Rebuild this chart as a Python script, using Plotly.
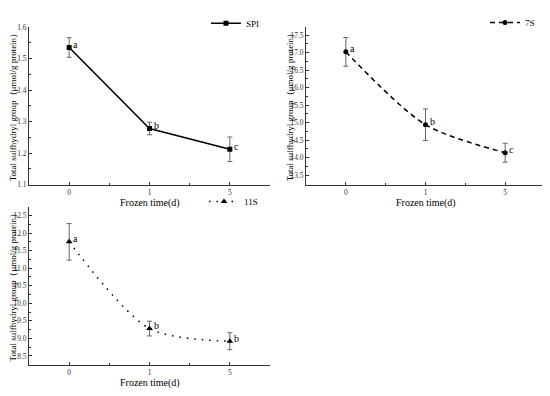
import plotly.graph_objects as go

categories = ["0", "1", "5"]
spi_values = [1.535, 1.278, 1.212]
spi_errors = [0.031, 0.020, 0.039]
spi_letters = ["a", "b", "c"]
s7_values = [17.02, 14.94, 14.14]
s7_errors = [0.41, 0.45, 0.27]
s7_letters = ["a", "b", "c"]
s11_values = [11.75, 9.28, 8.92]
s11_errors = [0.52, 0.21, 0.24]
s11_letters = ["a", "b", "b"]

xpos = list(range(len(categories)))
FONT = "Liberation Serif"
OFF = 8  # page body margin
W, H = 550 - OFF, 396 - OFF

def px_x(p):
    return min(max((p - OFF) / W, 0.0), 1.0)

def px_y(p):
    return min(max(1 - (p - OFF) / H, 0.0), 1.0)

fig = go.Figure()
err_style = dict(type="data", visible=True, color="#666666", thickness=1, width=2.5)

fig.add_trace(go.Scatter(
    x=xpos, y=spi_values, name="SPI", mode="lines+markers",
    line=dict(color="black", width=1.5),
    marker=dict(symbol="square", size=5, color="black"),
    error_y=dict(array=spi_errors, **err_style),
    xaxis="x", yaxis="y", legend="legend", showlegend=True))
fig.add_trace(go.Scatter(
    x=xpos, y=s7_values, name="7S", mode="lines+markers",
    line=dict(color="black", width=1.5, dash="5px,4px", shape="spline", smoothing=0.8),
    marker=dict(symbol="circle", size=5, color="black"),
    error_y=dict(array=s7_errors, **err_style),
    xaxis="x2", yaxis="y2", legend="legend2", showlegend=True))
fig.add_trace(go.Scatter(
    x=xpos, y=s11_values, name="11S", mode="lines+markers",
    line=dict(color="black", width=1.5, dash="1.5px,6px", shape="spline", smoothing=0.8),
    marker=dict(symbol="triangle-up", size=6, color="black"),
    error_y=dict(array=s11_errors, **err_style),
    xaxis="x3", yaxis="y3", legend="legend3", showlegend=True))

panels = [
    ("x", "y", (29, 270), (8, 176), [1.1, 1.6], 0.1, spi_values, spi_letters),
    ("x2", "y2", (306, 545), (8, 176), [13.23, 17.73], 0.5, s7_values, s7_letters),
    ("x3", "y3", (29, 270), (200, 368), [8.25, 12.74], 0.5, s11_values, s11_letters),
]

axis_common = dict(
    showline=True, linecolor="#333333", linewidth=1, ticks="inside", ticklen=3,
    tickcolor="#333333", showgrid=False, zeroline=False,
    tickfont=dict(family=FONT, size=7.5, color="#333333"),
)

annotations = []
for i, (xa, ya, (xl, xr), (yt, yb), yr, dt, vals, letters) in enumerate(panels):
    suffix = "" if i == 0 else str(i + 1)
    fig.update_layout(**{
        "xaxis" + suffix: dict(
            domain=[px_x(xl), px_x(xr)], anchor=ya, range=[-0.5, 2.5],
            tickmode="array", tickvals=xpos, ticktext=categories,
            minor=dict(ticks="inside", ticklen=2, tick0=0.5, dtick=1, tickcolor="#333333"),
            **axis_common),
        "yaxis" + suffix: dict(
            domain=[px_y(yb), px_y(yt)], anchor=xa, range=yr, dtick=dt,
            tickformat=".1f",
            minor=dict(ticks="inside", ticklen=2, dtick=dt / 2, tickcolor="#333333"),
            **axis_common),
    })
    for xv, yv, lt in zip(xpos, vals, letters):
        annotations.append(dict(
            x=xv, y=yv, xref=xa, yref=ya, text=lt, showarrow=False,
            xanchor="left", yanchor="middle", xshift=2, yshift=3,
            font=dict(family=FONT, size=10, color="black")))
    annotations.append(dict(
        x=(px_x(xl) + px_x(xr)) / 2, y=px_y(yb + 19.5), xref="paper", yref="paper",
        text="Frozen time(d)", showarrow=False, xanchor="center", yanchor="middle",
        font=dict(family=FONT, size=10, color="black")))
    annotations.append(dict(
        x=px_x(xl - 16.5), y=(px_y(yb) + px_y(yt)) / 2, xref="paper", yref="paper",
        text="Total sulfhydryl group（μmol/g protein）", showarrow=False, textangle=-90,
        xanchor="center", yanchor="middle",
        font=dict(family=FONT, size=9, color="black")))

legend_common = dict(
    bgcolor="rgba(0,0,0,0)", borderwidth=0, itemwidth=30,
    font=dict(family=FONT, size=9, color="black"),
    xanchor="left", yanchor="middle", tracegroupgap=0)

fig.update_layout(
    width=W, height=H,
    margin=dict(l=0, r=0, t=0, b=0),
    paper_bgcolor="white", plot_bgcolor="white",
    annotations=annotations,
    legend=dict(x=(206 - OFF) / W, y=1 - (4 - OFF) / H, **legend_common),
    legend2=dict(x=(485 - OFF) / W, y=1 - (3 - OFF) / H, **legend_common),
    legend3=dict(x=(204 - OFF) / W, y=1 - (194 - OFF) / H, **legend_common),
)

fig.write_html("out.html")
